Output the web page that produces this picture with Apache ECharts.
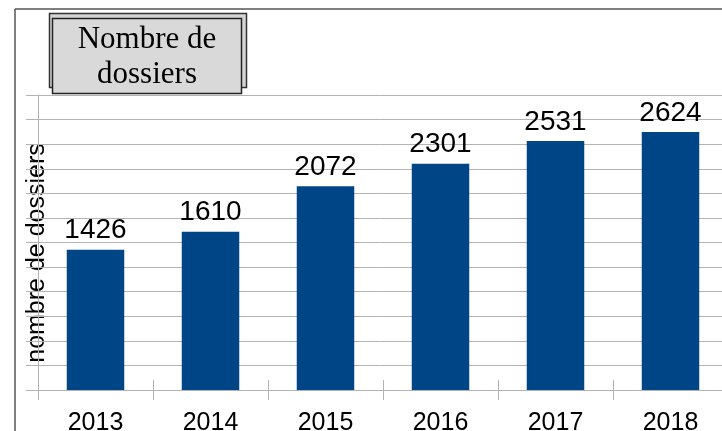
<!DOCTYPE html>
<html>
<head>
<meta charset="utf-8">
<script src="https://cdn.jsdelivr.net/npm/echarts@6/dist/echarts.min.js"></script>
<style>
  html, body { margin: 0; padding: 0; background: #fff; }
  #main { width: 722px; height: 431px; }
</style>
</head>
<body>
<div id="main"></div>
<script>
var years = ['2013', '2014', '2015', '2016', '2017', '2018']
var dossiers = [1426, 1610, 2072, 2301, 2531, 2624]
var titleLines = ['Nombre de', 'dossiers']
var yName = 'nombre de dossiers'

var myChart = echarts.init(document.getElementById('main'))
var option = {
  animation: false,
  grid: {
    left: 38,
    top: 95,
    width: 690,
    height: 295,
    outerBoundsMode: 'none'
  },
  xAxis: [
    {
      type: 'category',
      data: years,
      axisLine: { lineStyle: { color: '#b3b3b3', width: 1 } },
      axisTick: { show: true, length: 10, lineStyle: { color: '#b3b3b3' } },
      axisLabel: {
        color: '#000',
        fontSize: 25,
        fontFamily: 'Liberation Sans',
        margin: 21
      }
    },
    {
      // ticks crossing the axis line upwards
      type: 'category',
      data: years,
      position: 'bottom',
      axisLine: { show: false },
      axisTick: { show: true, inside: true, length: 10, lineStyle: { color: '#b3b3b3' } },
      axisLabel: { show: false }
    }
  ],
  yAxis: {
    type: 'value',
    min: 0,
    max: 3000,
    interval: 250,
    axisLine: { show: true, lineStyle: { color: '#b3b3b3' } },
    axisTick: { show: true, length: 12, lineStyle: { color: '#b3b3b3' } },
    axisLabel: { show: false },
    splitLine: { lineStyle: { color: '#b3b3b3', width: 1 } }
  },
  series: [
    {
      type: 'bar',
      data: dossiers,
      barWidth: '50%',
      itemStyle: { color: '#004586' },
      label: {
        show: true,
        position: 'top',
        distance: 5,
        color: '#000',
        fontSize: 28,
        fontFamily: 'Liberation Sans'
      }
    }
  ],
  graphic: [
    // chart frame
    { type: 'line', shape: { x1: 15, y1: 9, x2: 722, y2: 9 }, style: { stroke: '#555', lineWidth: 1.5 } },
    { type: 'line', shape: { x1: 15, y1: 9, x2: 15, y2: 431 }, style: { stroke: '#555', lineWidth: 1.5 } },
    // title box
    { type: 'rect', shape: { x: 49.5, y: 13.5, width: 197, height: 74 }, style: { fill: '#d4d4d4', stroke: '#333', lineWidth: 1.5 } },
    { type: 'rect', shape: { x: 52.5, y: 18.5, width: 189, height: 75 }, style: { fill: '#d9d9d9', stroke: '#222', lineWidth: 1.5 } },
    {
      type: 'text',
      x: 147,
      y: 57,
      style: {
        text: titleLines.join('\n'),
        fill: '#000',
        font: '31px "Liberation Serif"',
        lineHeight: 35,
        align: 'center',
        verticalAlign: 'middle'
      }
    },
    // y axis name
    {
      type: 'text',
      x: 37,
      y: 253,
      rotation: Math.PI / 2,
      style: {
        text: yName,
        fill: '#000',
        font: '25px "Liberation Sans"',
        align: 'center',
        verticalAlign: 'middle'
      }
    }
  ]
}
option && myChart.setOption(option)
</script>
</body>
</html>
